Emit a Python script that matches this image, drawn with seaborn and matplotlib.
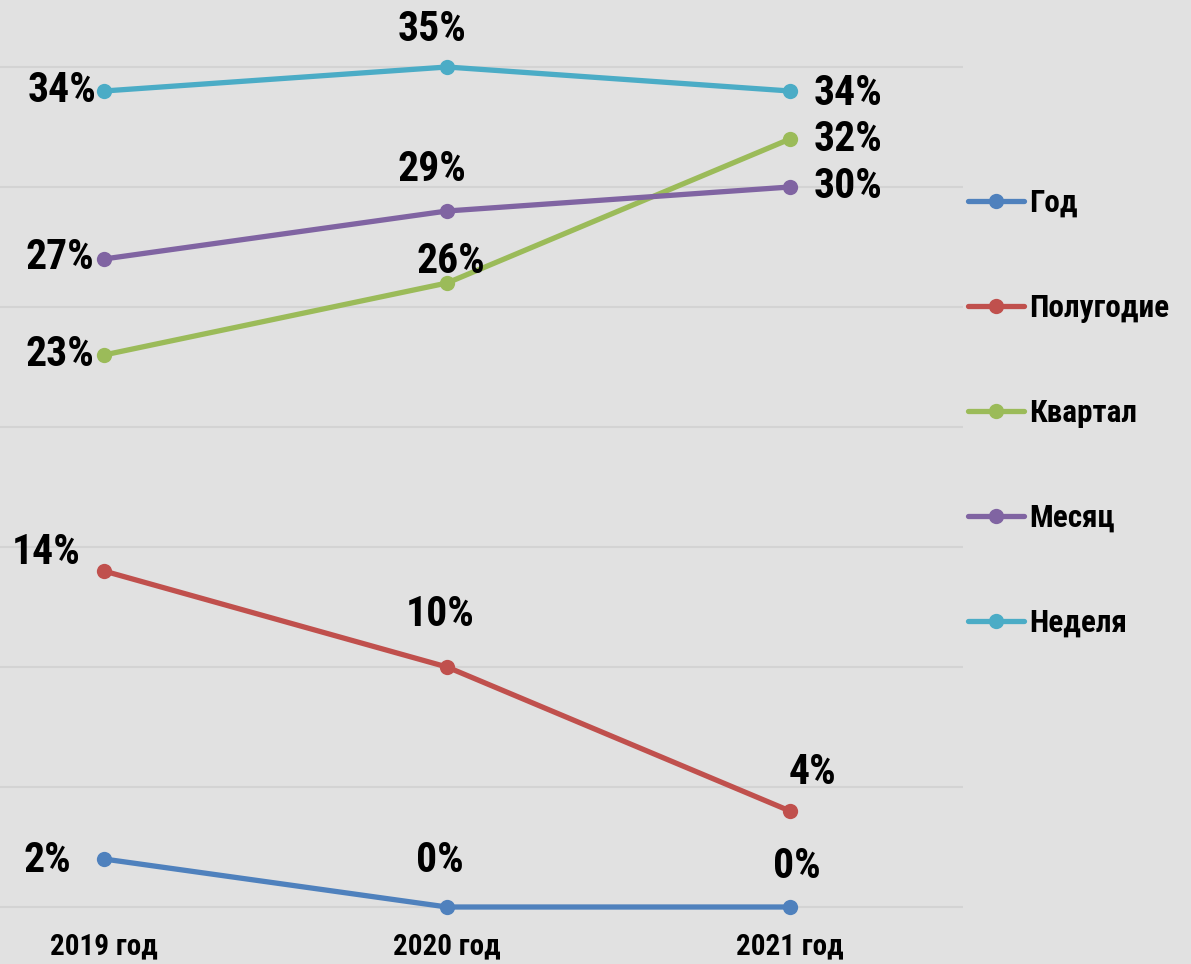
import pandas as pd
import numpy as np
import matplotlib
matplotlib.use('Agg')
import matplotlib.pyplot as plt
from matplotlib import font_manager
import seaborn as sns

# data (percent)
years = ['2019 год', '2020 год', '2021 год']
god = [2, 0, 0]
polugodie = [14, 10, 4]
kvartal = [23, 26, 32]
mesyac = [27, 29, 30]
nedelya = [34, 35, 34]

series = ['Год', 'Полугодие', 'Квартал', 'Месяц', 'Неделя']
colors = ['#4F81BD', '#C0504D', '#9BBB59', '#8064A2', '#4BACC6']

df = pd.DataFrame({
    'year': years * 5,
    'x': [0, 1, 2] * 5,
    'value': god + polugodie + kvartal + mesyac + nedelya,
    'series': np.repeat(series, 3),
})

bg = '#e1e1e1'
sns.set_style('white', {'axes.facecolor': bg, 'figure.facecolor': bg,
                        'text.color': 'black', 'xtick.color': 'black'})

# look for a narrow bold font, like Arial Narrow in the original
fonts = font_manager.fontManager.ttflist
names = {f.name for f in fonts}
family = 'DejaVu Sans'
stretch = 'normal'
for cand in ['Liberation Sans Narrow', 'Arial Narrow', 'Roboto Condensed',
             'Open Sans Condensed', 'Noto Sans Condensed', 'DejaVu Sans Condensed']:
    if cand in names:
        family = cand
        break
else:
    cond = [f for f in fonts if f.stretch in ('condensed', 'semi-condensed', 'extra-condensed', 600, 500)]
    if cond:
        family = cond[0].name
        stretch = 'condensed'
plt.rcParams['font.family'] = [family, 'DejaVu Sans']
plt.rcParams['font.stretch'] = stretch
plt.rcParams['font.weight'] = 'bold'

fig = plt.figure(figsize=(11.91, 9.64), dpi=100)
ax = fig.add_axes([0, 39 / 964, 963 / 1191, 925 / 964])

for y in range(0, 40, 5):
    ax.axhline(y, color='#d3d3d3', lw=1.5, zorder=0)

sns.lineplot(data=df, x='x', y='value', hue='series', hue_order=series,
             palette=colors, marker='o', markersize=11, markeredgewidth=0,
             linewidth=3.8, ax=ax)

# label offsets in pixels per series, per year
offsets = {
    'Неделя': [(-42, 0), (-15, 37), (58, -3)],
    'Квартал': [(-44, 0), (4, 21), (58, -1)],
    'Месяц': [(-44, 1), (-15, 41), (58, 0)],
    'Полугодие': [(-58, 18), (-7, 53), (22, 39)],
    'Год': [(-57, -2), (-7, 47), (7, 41)],
}
for _, r in df.iterrows():
    dx, dy = offsets[r['series']][r['x']]
    ax.annotate(f"{r['value']}%", (r['x'], r['value']), xytext=(dx, dy),
                textcoords='offset pixels', ha='center', va='center',
                fontsize=30, fontweight='bold', color='black')

ax.set_xlim(-104 / 343, (963 - 104) / 343)
ax.set_ylim(-18 / 24, 907 / 24)
ax.set_xticks([0, 1, 2])
ax.set_xticklabels(years, fontsize=21, fontweight='bold', color='black')
ax.tick_params(axis='x', length=0, pad=5)
ax.set_yticks([])
ax.set_xlabel('')
ax.set_ylabel('')
for s in ax.spines.values():
    s.set_visible(False)

leg = ax.legend(loc='upper left', bbox_to_anchor=(968 / 1191, 1 - 188 / 964),
                bbox_transform=fig.transFigure, frameon=False,
                fontsize=22.5, labelspacing=2.4, handlelength=1.8,
                handletextpad=0.15, borderpad=0, borderaxespad=0)
for t in leg.get_texts():
    t.set_fontweight('bold')
    t.set_color('black')

fig.savefig('out.png', dpi=100, facecolor=bg)
